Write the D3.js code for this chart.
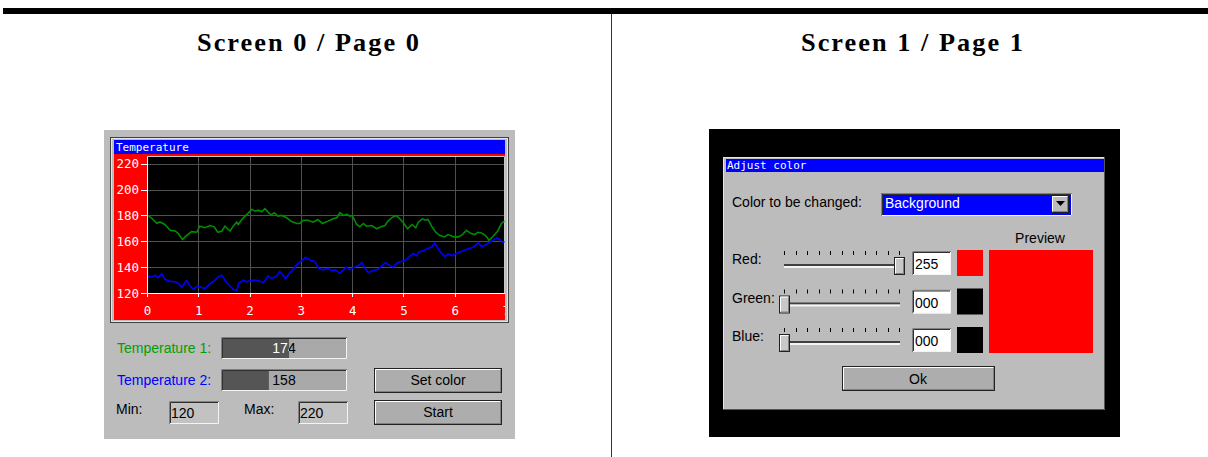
<!DOCTYPE html>
<meta charset="utf-8">
<style>
    body {
        margin: 0;
        background: #fff;
    }
    svg {
        display: block;
        font-family: "Liberation Sans", Arial, sans-serif;
        font-size: 14px;
    }
    .head {
        font: bold 26px "Liberation Serif", serif;
        letter-spacing: 2px;
    }
    .mono {
        font-family: "DejaVu Sans Mono", monospace;
        font-size: 11px;
    }
    .axis path,
    .axis line {
        stroke: #fff;
        shape-rendering: crispEdges;
    }
    .axis text {
        fill: #fff;
        font: 12.5px "DejaVu Sans Mono", monospace;
    }
    .grid line {
        stroke: #505050;
        shape-rendering: crispEdges;
    }
</style>
<body>
<script src="https://cdn.jsdelivr.net/npm/d3@7"></script>
<script>
    // values
    const headers = ['Screen 0 / Page 0', 'Screen 1 / Page 1'];
    const xTicks = [0, 1, 2, 3, 4, 5, 6, 7];
    const yTicks = [120, 140, 160, 180, 200, 220];

    // [time, temperature]
    const temp1 = [[0.01,180],[0.09,178],[0.19,174],[0.25,175],[0.35,173],[0.45,168.5],[0.55,168],[0.61,166],[0.69,161.3],[0.77,164.4],
        [0.87,167.5],[0.97,167],[1.03,171.7],[1.13,170.5],[1.23,172.2],[1.31,171.2],[1.38,167],[1.46,168],[1.52,171.7],[1.62,168],
        [1.68,171.7],[1.75,174.8],[1.78,173],[1.85,176.9],[1.91,179.5],[1.97,181.6],[2.04,184.7],[2.11,183.3],[2.17,184.1],[2.24,182.9],
        [2.30,185.2],[2.36,182.6],[2.42,180.5],[2.48,182.1],[2.55,179.5],[2.63,180],[2.72,178.2],[2.82,175.3],[2.92,173.8],[2.98,173.8],
        [3.05,176.3],[3.14,176.3],[3.24,174.8],[3.33,176.9],[3.42,173.8],[3.53,175.6],[3.63,177.4],[3.70,178.2],[3.76,182.1],[3.83,180],
        [3.89,180.8],[3.96,179.5],[4.00,180],[4.09,173],[4.15,171.2],[4.22,173.8],[4.28,171.7],[4.38,172.2],[4.48,169.7],[4.56,171.2],
        [4.64,172.2],[4.70,175.6],[4.77,178.2],[4.85,180],[4.91,178.2],[5.00,174.3],[5.08,169.7],[5.17,173],[5.24,170.5],[5.29,174.8],
        [5.37,177.4],[5.43,176.3],[5.48,176.9],[5.55,171.7],[5.63,167],[5.71,164.4],[5.80,163.4],[5.87,165.2],[5.95,163.9],[6.00,163.4],
        [6.07,163.4],[6.15,165.2],[6.23,168.5],[6.32,166],[6.39,165.2],[6.45,167],[6.52,166.5],[6.60,164.4],[6.67,160.8],[6.75,163.9],
        [6.84,168],[6.91,173.8],[6.97,175.6]];

    const temp2 = [[0.01,133.3],[0.09,132.2],[0.16,133.8],[0.21,131.7],[0.29,134.8],[0.35,130.6],[0.45,129],[0.55,128.7],[0.61,127.5],[0.68,124.5],
        [0.77,129.6],[0.84,125.5],[0.90,122.9],[0.99,125.5],[1.05,124.5],[1.13,123.4],[1.23,127],[1.33,130.1],[1.40,132.7],[1.46,133.8],
        [1.52,130.1],[1.62,125],[1.68,122.9],[1.75,121.8],[1.79,127.5],[1.88,130.1],[1.94,128.6],[2.01,129.6],[2.11,130.1],[2.20,129],
        [2.27,128],[2.33,131.4],[2.36,133.2],[2.43,131.1],[2.53,133.2],[2.59,136.6],[2.66,133.2],[2.70,131.1],[2.77,134.8],[2.85,138.4],
        [2.95,143.1],[3.02,145.1],[3.09,147.7],[3.18,145.6],[3.27,144.3],[3.35,139.2],[3.42,137.9],[3.53,139],[3.60,137.4],[3.66,137.9],
        [3.76,135.4],[3.83,137.9],[3.89,140],[3.96,137.9],[4.04,140],[4.12,141],[4.19,143.6],[4.25,139.2],[4.31,135.8],[4.41,137.4],
        [4.51,138.4],[4.58,141],[4.65,143.6],[4.74,141],[4.80,140],[4.87,143.1],[4.95,144.3],[5.03,145.1],[5.11,147.7],[5.19,150.8],
        [5.26,148.8],[5.29,151.4],[5.39,152.9],[5.45,154],[5.55,155.6],[5.61,158.7],[5.68,154],[5.74,150.8],[5.81,148.2],[5.87,150.3],
        [5.95,148.8],[6.04,150.8],[6.13,152.1],[6.21,153.4],[6.30,154.7],[6.38,155.9],[6.46,159.1],[6.52,155.9],[6.60,157.2],[6.67,159.1],
        [6.75,160.8],[6.82,162.6],[6.88,161.3],[6.93,159.1],[6.97,159.9]];

    const barLabels = ['Temperature 1:', 'Temperature 2:'];
    const barValues = [174, 158];
    const barColors = ['#00a000', '#0000ff'];
    const limitLabels = ['Min:', 'Max:'];
    const limits = [120, 220];
    const buttons = ['Set color', 'Start'];

    const sliderNames = ['Red:', 'Green:', 'Blue:'];
    const sliderValues = [255, 0, 0];

    const GRAY = '#bcbcbc';

    const svg = d3.select('body')
        .append('svg')
        .attr('width', 1208)
        .attr('height', 457);

    const defs = svg.append('defs');

    // page header
    svg.append('rect').attr('x', 3).attr('y', 8).attr('width', 1205).attr('height', 6).attr('fill', '#000');
    svg.append('line').attr('x1', 611.5).attr('x2', 611.5).attr('y1', 14).attr('y2', 457)
        .attr('stroke', '#333');
    svg.selectAll('.head')
        .data(headers)
        .enter().append('text')
        .attr('class', 'head')
        .attr('x', (d, i) => i ? 801 : 197)
        .attr('y', 51)
        .attr('textLength', 224)
        .attr('lengthAdjust', 'spacingAndGlyphs')
        .text(d => d);

    // 3d box helper
    function bevel(g, x, y, w, h, raised, fill) {
        g.append('rect').attr('x', x).attr('y', y).attr('width', w).attr('height', h).attr('fill', fill);
        if (raised) {
            g.append('rect').attr('x', x + .5).attr('y', y + .5).attr('width', w - 1).attr('height', h - 1)
                .attr('fill', 'none').attr('stroke', '#222');
            g.append('path').attr('d', `M${x + 1.5},${y + h - 2}V${y + 1.5}H${x + w - 2}`)
                .attr('fill', 'none').attr('stroke', '#fff');
            g.append('path').attr('d', `M${x + w - 1.5},${y + 2}V${y + h - 1.5}H${x + 2}`)
                .attr('fill', 'none').attr('stroke', '#808080');
        } else {
            g.append('path').attr('d', `M${x + .5},${y + h}V${y + .5}H${x + w}`)
                .attr('fill', 'none').attr('stroke', '#808080');
            g.append('path').attr('d', `M${x + 1.5},${y + h - 1}V${y + 1.5}H${x + w - 1}`)
                .attr('fill', 'none').attr('stroke', '#303030');
            g.append('path').attr('d', `M${x + w - .5},${y + 1}V${y + h - .5}H${x + 1}`)
                .attr('fill', 'none').attr('stroke', '#f4f4f4');
        }
        return g;
    }

    // ---------- screen 0 ----------
    const left = svg.append('g');
    left.append('rect').attr('x', 104).attr('y', 130).attr('width', 411).attr('height', 309).attr('fill', GRAY);
    left.append('rect').attr('x', 110.5).attr('y', 137.5).attr('width', 398).attr('height', 185)
        .attr('fill', GRAY).attr('stroke', '#404040');
    left.append('rect').attr('x', 111.5).attr('y', 138.5).attr('width', 396).attr('height', 183)
        .attr('fill', 'none').attr('stroke', '#e6e6e6');
    left.append('rect').attr('x', 114).attr('y', 140).attr('width', 391).attr('height', 14).attr('fill', '#0000ff');
    left.append('text').attr('class', 'mono').attr('x', 116).attr('y', 151).attr('fill', '#fff').text('Temperature');
    left.append('rect').attr('x', 114).attr('y', 154).attr('width', 391).attr('height', 166).attr('fill', '#ff0000');

    defs.append('clipPath').attr('id', 'client')
        .append('rect').attr('x', 114).attr('y', 154).attr('width', 391).attr('height', 166);
    defs.append('clipPath').attr('id', 'plotclip')
        .append('rect').attr('x', 147).attr('y', 156).attr('width', 358).attr('height', 138);

    const x = d3.scaleLinear().domain([0, 7]).range([147, 506]);
    const y = d3.scaleLinear().domain([120, 226]).range([293, 156]);

    const chart = left.append('g').attr('clip-path', 'url(#client)');
    chart.append('rect')
        .attr('x', x(0)).attr('y', y(226))
        .attr('width', x(7) - x(0)).attr('height', y(120) - y(226))
        .attr('fill', '#000');

    const grid = chart.append('g').attr('class', 'grid');
    grid.selectAll('.vx')
        .data(xTicks.filter(d => d > 0 && d < 7))
        .enter().append('line')
        .attr('x1', d => Math.round(x(d)) + .5).attr('x2', d => Math.round(x(d)) + .5)
        .attr('y1', y(226)).attr('y2', y(120));
    grid.selectAll('.hy')
        .data(yTicks.filter(d => d > 120))
        .enter().append('line')
        .attr('y1', d => Math.round(y(d)) + .5).attr('y2', d => Math.round(y(d)) + .5)
        .attr('x1', x(0)).attr('x2', x(7));

    // light frame on top and right of the plot
    chart.append('path')
        .attr('d', `M${x(0)},${y(226) + .5}H504.5V${y(120)}`)
        .attr('fill', 'none').attr('stroke', '#c8c8c8');

    const line = d3.line().x(d => x(d[0])).y(d => y(d[1]));
    const lines = chart.append('g').attr('clip-path', 'url(#plotclip)');
    lines.append('path').datum(temp1).attr('d', line)
        .attr('fill', 'none').attr('stroke', '#008c00').attr('stroke-width', 1.6);
    lines.append('path').datum(temp2).attr('d', line)
        .attr('fill', 'none').attr('stroke', '#0000ff').attr('stroke-width', 1.6);

    chart.append('g')
        .attr('class', 'axis')
        .attr('transform', `translate(${x(0)},0)`)
        .call(d3.axisLeft(y).tickValues(yTicks).tickSize(6).tickSizeOuter(0).tickPadding(2));
    chart.append('g')
        .attr('class', 'axis')
        .attr('transform', `translate(0,${y(120)})`)
        .call(d3.axisBottom(x).tickValues(xTicks).tickFormat(d3.format('d'))
            .tickSize(4).tickSizeOuter(0).tickPadding(9));

    // progress bars
    const bar = d3.scaleLinear().domain(limits).range([0, 126]);
    barValues.forEach((v, i) => {
        const top = 337 + i * 32;
        left.append('text').attr('x', 117).attr('y', top + 16).attr('fill', barColors[i]).text(barLabels[i]);
        bevel(left.append('g'), 221, top, 126, 22, false, '#a9a9a9');
        left.append('rect').attr('x', 223).attr('y', top + 2).attr('width', bar(v) - 2).attr('height', 19)
            .attr('fill', '#555');
        defs.append('clipPath').attr('id', 'dark' + i)
            .append('rect').attr('x', 221).attr('y', top).attr('width', bar(v)).attr('height', 22);
        defs.append('clipPath').attr('id', 'light' + i)
            .append('rect').attr('x', 221 + bar(v)).attr('y', top).attr('width', 126 - bar(v)).attr('height', 22);
        ['dark', 'light'].forEach(k => {
            left.append('text')
                .attr('clip-path', `url(#${k}${i})`)
                .attr('x', 284).attr('y', top + 16)
                .attr('text-anchor', 'middle')
                .attr('fill', k === 'dark' ? '#fff' : '#000')
                .text(v);
        });
    });

    // min / max
    limits.forEach((v, i) => {
        left.append('text').attr('x', 116 + i * 128).attr('y', 414).text(limitLabels[i]);
        bevel(left.append('g'), 169 + i * 129, 401, 50, 23, false, '#c2c2c2');
        left.append('text').attr('x', 171 + i * 129).attr('y', 418).text(v);
    });

    buttons.forEach((b, i) => {
        const top = 368 + i * 32;
        bevel(left.append('g'), 374, top, 128, 25, true, '#adadad');
        left.append('text').attr('x', 438).attr('y', top + 17).attr('text-anchor', 'middle').text(b);
    });

    // ---------- screen 1 ----------
    const right = svg.append('g');
    right.append('rect').attr('x', 709).attr('y', 129).attr('width', 411).attr('height', 308).attr('fill', '#000');
    right.append('rect').attr('x', 723).attr('y', 157).attr('width', 382).attr('height', 253).attr('fill', GRAY);
    right.append('path').attr('d', 'M723.5,410V157.5H1105').attr('fill', 'none').attr('stroke', '#e6e6e6');
    right.append('path').attr('d', 'M1104.5,157V409.5H723').attr('fill', 'none').attr('stroke', '#555');
    right.append('rect').attr('x', 726).attr('y', 159).attr('width', 378).attr('height', 13).attr('fill', '#0000ff');
    right.append('text').attr('class', 'mono').attr('x', 727).attr('y', 169).attr('fill', '#fff').text('Adjust color');

    right.append('text').attr('x', 732).attr('y', 207).text('Color to be changed:');
    bevel(right.append('g'), 881, 193, 191, 23, false, '#0000ff');
    right.append('text').attr('x', 885).attr('y', 208).attr('fill', '#fff').text('Background');
    bevel(right.append('g'), 1051, 195, 18, 18, true, GRAY);
    right.append('path').attr('d', 'M1056,201H1065L1060.5,206Z').attr('fill', '#000');

    right.append('text').attr('x', 1040).attr('y', 243).attr('text-anchor', 'middle').text('Preview');
    right.append('rect').attr('x', 989).attr('y', 250).attr('width', 104).attr('height', 103)
        .attr('fill', d3.rgb(...sliderValues));

    const sx = d3.scaleLinear().domain([0, 255]).range([784, 899]);
    const tickVals = d3.range(0, 256, 25.5);
    sliderValues.forEach((v, i) => {
        const top = 250 + i * 38.5;
        const g = right.append('g');
        g.append('text').attr('x', 732).attr('y', top + 14).text(sliderNames[i]);
        g.selectAll('.tk')
            .data(tickVals)
            .enter().append('line')
            .attr('x1', d => Math.round(sx(d)) + .5).attr('x2', d => Math.round(sx(d)) + .5)
            .attr('y1', top + 1).attr('y2', top + 5)
            .attr('stroke', '#000');
        g.append('rect').attr('x', 784).attr('y', top + 14).attr('width', 116).attr('height', 2).attr('fill', '#404040');
        g.append('rect').attr('x', 784).attr('y', top + 16).attr('width', 116).attr('height', 2).attr('fill', '#f4f4f4');
        bevel(g.append('g'), Math.round(sx(v)) - 5, top + 7, 11, 18, true, '#c8c8c8');
        bevel(g.append('g'), 912, top + 1, 39, 24, false, '#fff');
        g.append('text').attr('x', 915).attr('y', top + 19).text(d3.format('03d')(v));
        const c = [0, 0, 0];
        c[i] = v;
        g.append('rect').attr('x', 957).attr('y', top).attr('width', 26).attr('height', 26)
            .attr('fill', d3.rgb(...c));
    });

    bevel(right.append('g'), 842, 366, 153, 25, true, '#adadad');
    right.append('text').attr('x', 918).attr('y', 384).attr('text-anchor', 'middle').text('Ok');
</script>
</body>
